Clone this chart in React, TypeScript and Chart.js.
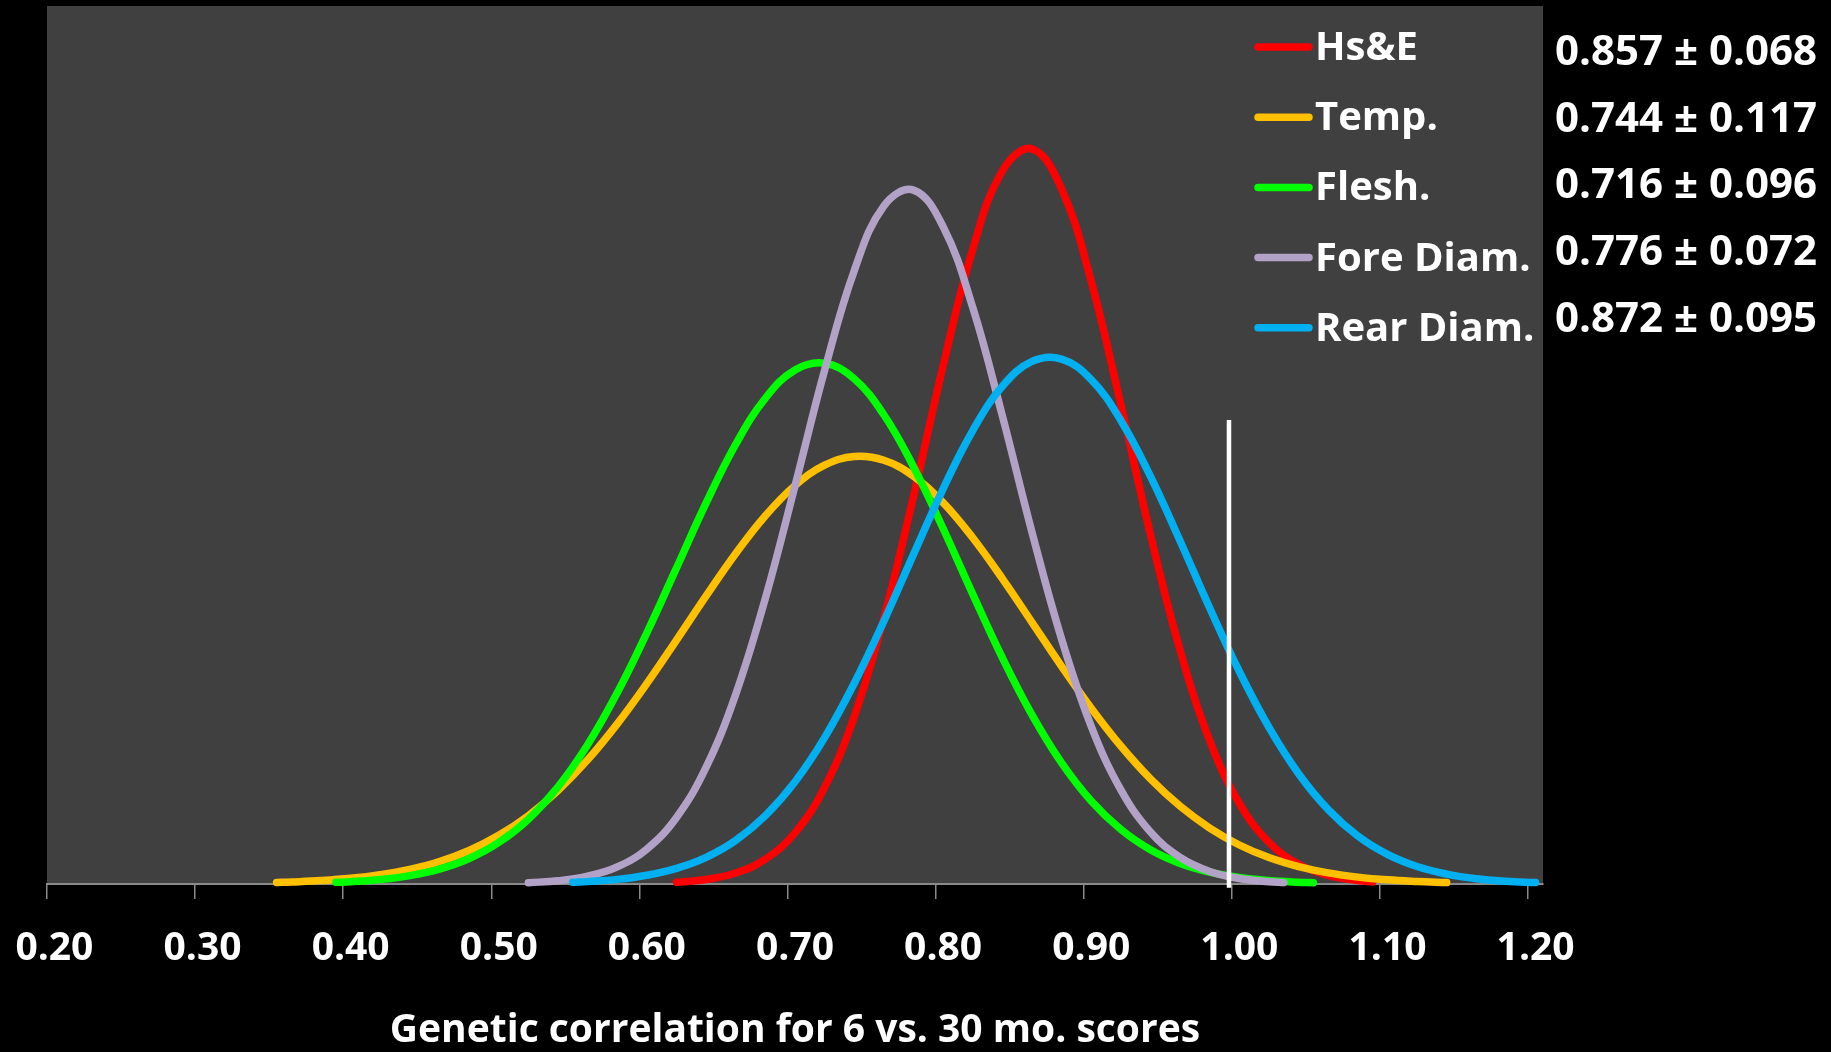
import React, { useEffect, useRef } from "react";
import { Chart, registerables } from "chart.js";

Chart.register(...registerables);

// ---------- data ----------
const tickLabels = ["0.20", "0.30", "0.40", "0.50", "0.60", "0.70", "0.80", "0.90", "1.00", "1.10", "1.20"];
const axisTitle = "Genetic correlation for 6 vs. 30 mo. scores";

const seriesNames = ["Hs&E", "Temp.", "Flesh.", "Fore Diam.", "Rear Diam."];
const seriesStats = ["0.857 ± 0.068", "0.744 ± 0.117", "0.716 ± 0.096", "0.776 ± 0.072", "0.872 ± 0.095"];

const hsEX = [0.62, 0.64, 0.66, 0.68, 0.70, 0.72, 0.74, 0.76, 0.78, 0.80, 0.82, 0.84, 0.86, 0.88, 0.90, 0.92, 0.94, 0.96, 0.98, 1.00, 1.02, 1.04, 1.06, 1.08, 1.09];
const hsEY = [0.014, 0.036, 0.088, 0.198, 0.408, 0.770, 1.334, 2.122, 3.091, 4.130, 5.060, 5.686, 5.861, 5.541, 4.804, 3.821, 2.786, 1.863, 1.143, 0.643, 0.332, 0.157, 0.068, 0.027, 0.017];

const tempX = [0.35, 0.36, 0.38, 0.40, 0.42, 0.44, 0.46, 0.48, 0.50, 0.52, 0.54, 0.56, 0.58, 0.60, 0.62, 0.64, 0.66, 0.68, 0.70, 0.72, 0.74, 0.76, 0.78, 0.80, 0.82, 0.84, 0.86, 0.88, 0.90, 0.92, 0.94, 0.96, 0.98, 1.00, 1.02, 1.04, 1.06, 1.08, 1.10, 1.12, 1.14];
const tempY = [0.012, 0.016, 0.027, 0.045, 0.074, 0.117, 0.179, 0.267, 0.388, 0.545, 0.746, 0.990, 1.277, 1.599, 1.945, 2.297, 2.635, 2.936, 3.177, 3.339, 3.408, 3.378, 3.252, 3.041, 2.761, 2.435, 2.086, 1.735, 1.402, 1.100, 0.838, 0.620, 0.446, 0.311, 0.211, 0.139, 0.089, 0.055, 0.033, 0.020, 0.011];

const fleshX = [0.39, 0.40, 0.42, 0.44, 0.46, 0.48, 0.50, 0.52, 0.54, 0.56, 0.58, 0.60, 0.62, 0.64, 0.66, 0.68, 0.70, 0.72, 0.74, 0.76, 0.78, 0.80, 0.82, 0.84, 0.86, 0.88, 0.90, 0.92, 0.94, 0.96, 0.98, 1.00, 1.02, 1.04, 1.05];
const fleshY = [0.013, 0.018, 0.036, 0.067, 0.119, 0.203, 0.331, 0.517, 0.774, 1.110, 1.524, 2.003, 2.520, 3.038, 3.506, 3.873, 4.098, 4.152, 4.028, 3.741, 3.327, 2.834, 2.311, 1.804, 1.349, 0.966, 0.662, 0.435, 0.273, 0.164, 0.095, 0.052, 0.028, 0.014, 0.010];

const foreX = [0.52, 0.54, 0.56, 0.58, 0.60, 0.62, 0.64, 0.66, 0.68, 0.70, 0.72, 0.74, 0.76, 0.78, 0.80, 0.82, 0.84, 0.86, 0.88, 0.90, 0.92, 0.94, 0.96, 0.98, 1.00, 1.02, 1.03];
const foreY = [0.010, 0.026, 0.062, 0.136, 0.279, 0.530, 0.931, 1.513, 2.278, 3.174, 4.095, 4.890, 5.406, 5.532, 5.241, 4.597, 3.732, 2.805, 1.952, 1.257, 0.750, 0.414, 0.212, 0.100, 0.044, 0.018, 0.011];

const rearX = [0.55, 0.56, 0.58, 0.60, 0.62, 0.64, 0.66, 0.68, 0.70, 0.72, 0.74, 0.76, 0.78, 0.80, 0.82, 0.84, 0.86, 0.88, 0.90, 0.92, 0.94, 0.96, 0.98, 1.00, 1.02, 1.04, 1.06, 1.08, 1.10, 1.12, 1.14, 1.16, 1.18, 1.20];
const rearY = [0.013, 0.019, 0.037, 0.070, 0.125, 0.213, 0.348, 0.545, 0.815, 1.167, 1.600, 2.096, 2.628, 3.151, 3.615, 3.968, 4.166, 4.185, 4.021, 3.696, 3.250, 2.735, 2.200, 1.694, 1.248, 0.879, 0.593, 0.382, 0.236, 0.139, 0.079, 0.042, 0.022, 0.011];

const refLineX = [0.993, 0.993];
const refLineY = [-0.03, 3.7];

// ---------- styles ----------
const seriesColors = ["#FF0000", "#FFC000", "#00FF00", "#B3A2C7", "#00B0F0"];
const FONT = "'Open Sans', 'DejaVu Sans', sans-serif";
const HALF_CAT = 0.005; // Excel category axis: points sit mid-slot

const toPts = (xs: number[], ys: number[]) => xs.map((x, i) => ({ x, y: ys[i] }));

const seriesData = [
  toPts(hsEX, hsEY),
  toPts(tempX, tempY),
  toPts(fleshX, fleshY),
  toPts(foreX, foreY),
  toPts(rearX, rearY),
];

const decorPlugin = {
  id: "decor",
  beforeDraw(chart: any) {
    const { ctx, chartArea: a, width, height } = chart;
    ctx.save();
    ctx.fillStyle = "#000000";
    ctx.fillRect(0, 0, width, height);
    ctx.fillStyle = "#404040";
    ctx.fillRect(a.left, a.top, a.right - a.left, a.bottom - a.top);
    ctx.restore();
  },
  afterDraw(chart: any) {
    const { ctx } = chart;
    ctx.save();
    for (let i = 0; i < seriesNames.length; i++) {
      const y = 47 + i * 70.2;
      ctx.strokeStyle = seriesColors[i];
      ctx.lineWidth = 7.5;
      ctx.lineCap = "round";
      ctx.beginPath();
      ctx.moveTo(1258, y);
      ctx.lineTo(1309, y);
      ctx.stroke();
      ctx.fillStyle = "#FFFFFF";
      ctx.font = `bold 40px ${FONT}`;
      ctx.textAlign = "left";
      ctx.textBaseline = "alphabetic";
      ctx.fillText(seriesNames[i], 1315, y + 13);
    }
    for (let i = 0; i < seriesStats.length; i++) {
      const y = 65 + i * 66.7;
      ctx.fillStyle = "#FFFFFF";
      ctx.font = `bold 42px ${FONT}`;
      ctx.textAlign = "center";
      ctx.textBaseline = "alphabetic";
      ctx.fillText(seriesStats[i], 1686, y);
    }
    ctx.restore();
  },
};

export default function App() {
  const ref = useRef<HTMLCanvasElement>(null);

  useEffect(() => {
    document.body.style.margin = "0";
    document.body.style.background = "#000";
    document.body.style.overflow = "hidden";
    Chart.defaults.font.family = FONT;

    const datasets: any[] = seriesNames.map((name, i) => ({
      label: name,
      data: seriesData[i],
      borderColor: seriesColors[i],
      backgroundColor: seriesColors[i],
      borderWidth: 7.5,
      pointRadius: 0,
      pointHoverRadius: 0,
      borderCapStyle: "round",
      borderJoinStyle: "round",
      tension: 0.4,
      fill: false,
      order: seriesNames.length - i,
      clip: 8,
    }));
    datasets.push({
      label: "ref",
      data: toPts(refLineX, refLineY),
      borderColor: "#FFFFFF",
      borderWidth: 4.5,
      pointRadius: 0,
      tension: 0,
      fill: false,
      order: 0,
      clip: false,
    });

    const chart = new Chart(ref.current as HTMLCanvasElement, {
      type: "line",
      data: { datasets },
      plugins: [decorPlugin],
      options: {
        animation: false,
        responsive: false,
        maintainAspectRatio: false,
        events: [],
        layout: { padding: { left: 47, right: 288, top: 6, bottom: 0 } },
        plugins: {
          legend: { display: false },
          tooltip: { enabled: false },
          title: { display: false },
        },
        scales: {
          x: {
            type: "linear",
            position: "bottom",
            min: 0.2 - HALF_CAT,
            max: 1.2 + HALF_CAT,
            afterBuildTicks: (scale: any) => {
              scale.ticks = tickLabels.map((l) => ({ value: Number(l) - HALF_CAT }));
            },
            afterFit: (scale: any) => {
              scale.height = 168;
              scale.paddingLeft = 0;
              scale.paddingRight = 0;
            },
            grid: {
              display: true,
              drawOnChartArea: false,
              drawTicks: true,
              tickLength: 15,
              color: "#8A8A8A",
              lineWidth: 1.5,
            },
            border: { display: true, color: "#8A8A8A", width: 2 },
            ticks: {
              autoSkip: false,
              maxRotation: 0,
              minRotation: 0,
              labelOffset: 7.4,
              padding: 26,
              color: "#FFFFFF",
              font: { size: 39, weight: "bold", family: FONT },
              callback: (_v: any, i: number) => tickLabels[i],
            },
            title: {
              display: true,
              text: axisTitle,
              color: "#FFFFFF",
              font: { size: 39, weight: "bold", family: FONT },
              padding: { top: 0, bottom: -2 },
            },
          },
          y: {
            type: "linear",
            display: false,
            min: 0,
            max: 7,
          },
        },
      } as any,
    });
    return () => chart.destroy();
  }, []);

  return (
    <div style={{ width: 1831, height: 1052, overflow: "hidden", background: "#000" }}>
      <canvas ref={ref} width={1831} height={1052} style={{ display: "block", width: 1831, height: 1052 }} />
    </div>
  );
}
